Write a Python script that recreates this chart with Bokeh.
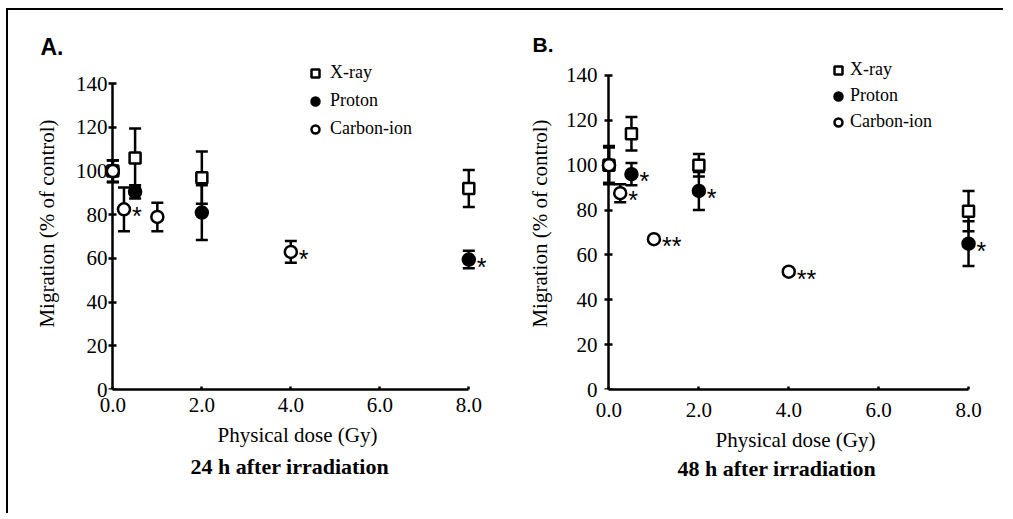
from bokeh.plotting import figure
from bokeh.layouts import row
from bokeh.models import FixedTicker, Legend, LegendItem, Title, ColumnDataSource, LinearAxis
from bokeh.embed import file_html
from bokeh.resources import INLINE
from bokeh.core.properties import value

# ---- data -------------------------------------------------------------
XRAY_DOSE = [0, 0.5, 2, 8]
PROTON_DOSE = [0, 0.5, 2, 8]
CARBON_DOSE = [0, 0.25, 1, 4]

A_XRAY = [100, 106, 97, 92]
A_XRAY_ERR = [5, 13.5, 12, 8.5]
A_PROTON = [100, 90.5, 81, 59.5]
A_PROTON_ERR = [5, 3, 12.5, 4]
A_CARBON = [100, 82.5, 79, 63]
A_CARBON_ERR = [5, 10, 6.5, 5]
A_XRAY_SIG = ["", "", "", ""]
A_PROTON_SIG = ["", "", "", "*"]
A_CARBON_SIG = ["", "*", "", "*"]

B_XRAY = [100, 114, 100, 79.5]
B_XRAY_ERR = [8, 7.5, 5, 9]
B_PROTON = [100, 96, 88.5, 65]
B_PROTON_ERR = [8.5, 5, 8.5, 10]
B_CARBON = [100, 87.5, 67, 52.5]
B_CARBON_ERR = [8, 4, 1, 1]
B_XRAY_SIG = ["", "", "", ""]
B_PROTON_SIG = ["", "*", "*", "*"]
B_CARBON_SIG = ["", "*", "**", "**"]

SERIES = ["X-ray", "Proton", "Carbon-ion"]
X_TICKS = [0, 2, 4, 6, 8]
X_TICK_LABELS = ["0.0", "2.0", "4.0", "6.0", "8.0"]
Y_TICKS = [0, 20, 40, 60, 80, 100, 120, 140]
Y_TICK_LABELS = ["0", "20", "40", "60", "80", "100", "120", "140"]
X_LABEL = "Physical dose (Gy)"
Y_LABEL = "Migration (% of control)"

SERIF = "Liberation Serif"
SANS = "Liberation Sans"

STYLE = {
    "X-ray": dict(marker="square", fill_color="white", size=11),
    "Proton": dict(marker="circle", fill_color="black", size=12),
    "Carbon-ion": dict(marker="circle", fill_color="white", size=12),
}

FIG_H = 505


def make_panel(letter, letter_offset, letter_size, letter_standoff, subtitle, sub_offset,
               sub_standoff, series, width, mb_left, mb_right, mb_top, y_end, legend_loc,
               legend_spacing, legend_standoff, xlabel_standoff, ticklabel_standoff,
               ylab_standoff, ylabel_standoff):
    p = figure(width=width, height=FIG_H, x_range=(-0.3, 8.6), y_range=(0, y_end),
               output_backend="svg", toolbar_location=None,
               min_border_left=mb_left, min_border_right=mb_right,
               min_border_top=mb_top, min_border_bottom=126)
    p.grid.visible = False
    p.outline_line_color = None

    # panel letter
    p.title.text = letter
    p.title.align = "left"
    p.title.offset = letter_offset
    p.title.text_font = SANS
    p.title.text_font_size = letter_size
    p.title.text_font_style = "bold"
    p.title.text_color = "black"
    p.title.standoff = letter_standoff

    # x axis
    xa = p.xaxis[0]
    xa.ticker = FixedTicker(ticks=X_TICKS)
    xa.major_label_overrides = dict(zip(X_TICKS, X_TICK_LABELS))
    xa.bounds = (0, 8)
    xa.axis_line_width = 2.5
    xa.axis_line_color = "black"
    xa.major_tick_line_width = 2.5
    xa.major_tick_line_color = "black"
    xa.minor_tick_line_color = None
    xa.major_tick_in = 3
    xa.major_tick_out = 0
    xa.major_label_standoff = ticklabel_standoff
    xa.major_label_text_font = SERIF
    xa.major_label_text_font_size = "21px"
    xa.major_label_text_color = "black"
    xa.axis_label = X_LABEL
    xa.axis_label_standoff = xlabel_standoff
    xa.axis_label_text_font = SERIF
    xa.axis_label_text_font_size = "21px"
    xa.axis_label_text_font_style = "normal"
    xa.axis_label_text_color = "black"

    # y axis: labels only, at frame edge
    ya = p.yaxis[0]
    ya.ticker = FixedTicker(ticks=Y_TICKS)
    ya.major_label_overrides = dict(zip(Y_TICKS, Y_TICK_LABELS))
    ya.axis_line_color = None
    ya.major_tick_line_color = None
    ya.minor_tick_line_color = None
    ya.major_tick_in = 0
    ya.major_tick_out = 0
    ya.major_label_standoff = ylab_standoff
    ya.major_label_text_font = SERIF
    ya.major_label_text_font_size = "21px"
    ya.major_label_text_color = "black"
    ya.axis_label = Y_LABEL
    ya.axis_label_standoff = ylabel_standoff
    ya.axis_label_text_font = SERIF
    ya.axis_label_text_font_size = "21px"
    ya.axis_label_text_font_style = "normal"
    ya.axis_label_text_color = "black"

    # y axis line and ticks at dose = 0
    yline = LinearAxis(ticker=FixedTicker(ticks=Y_TICKS), fixed_location=0,
                       bounds=(0, 140), axis_line_width=2.5, axis_line_color="black",
                       major_tick_line_width=2.5, major_tick_line_color="black",
                       minor_tick_line_color=None, major_tick_in=4, major_tick_out=4,
                       major_label_text_color=None, major_label_text_font_size="1px")
    p.add_layout(yline, "left")

    renderers = {}
    for name, (dose, vals, errs, sig) in series.items():
        src = ColumnDataSource(dict(
            x=dose, y=vals,
            lo=[v - e for v, e in zip(vals, errs)],
            hi=[v + e for v, e in zip(vals, errs)],
            sig=sig,
        ))
        p.segment(x0="x", y0="lo", x1="x", y1="hi", source=src,
                  line_color="black", line_width=2.5)
        p.scatter(x="x", y="lo", source=src, marker="dash", size=12,
                  line_color="black", line_width=2.5)
        p.scatter(x="x", y="hi", source=src, marker="dash", size=12,
                  line_color="black", line_width=2.5)
        st = STYLE[name]
        r = p.scatter(x="x", y="y", source=src, marker=st["marker"],
                      size=st["size"], fill_color=st["fill_color"],
                      line_color="black", line_width=2.5, level="overlay")
        renderers[name] = r
        p.text(x="x", y="y", text="sig", source=src, x_offset=8, y_offset=7,
               text_align="left", text_baseline="middle",
               text_font=value(SANS), text_font_size="25px",
               text_color="black", level="overlay")

    legend = Legend(items=[LegendItem(label=n, renderers=[renderers[n]]) for n in SERIES],
                    location=legend_loc)
    legend.border_line_color = None
    legend.background_fill_alpha = 0
    legend.label_text_font = SERIF
    legend.label_text_font_size = "18px"
    legend.label_text_color = "black"
    legend.glyph_width = 20
    legend.glyph_height = 20
    legend.label_height = 20
    legend.spacing = legend_spacing
    legend.padding = 0
    legend.margin = 0
    legend.label_standoff = legend_standoff
    p.add_layout(legend)

    sub = Title(text=subtitle, align="left", offset=sub_offset, standoff=sub_standoff,
                text_font=SERIF, text_font_size="22px", text_font_style="bold",
                text_color="black")
    p.add_layout(sub, "below")
    return p


pA = make_panel("A.", -59, "23px", -5, "24 h after irradiation", 91, 5,
                {"X-ray": (XRAY_DOSE, A_XRAY, A_XRAY_ERR, A_XRAY_SIG),
                 "Proton": (PROTON_DOSE, A_PROTON, A_PROTON_ERR, A_PROTON_SIG),
                 "Carbon-ion": (CARBON_DOSE, A_CARBON, A_CARBON_ERR, A_CARBON_SIG)},
                497, 91, 10, 47, 152, (206, 250), 7, 5, 8, 8, -8, 14)
pB = make_panel("B.", -63, "21px", 4, "48 h after irradiation", 82, -1,
                {"X-ray": (XRAY_DOSE, B_XRAY, B_XRAY_ERR, B_XRAY_SIG),
                 "Proton": (PROTON_DOSE, B_PROTON, B_PROTON_ERR, B_PROTON_SIG),
                 "Carbon-ion": (CARBON_DOSE, B_CARBON, B_CARBON_ERR, B_CARBON_SIG)},
                500, 90, 10, 44, 148, (233, 257), 5, 2, 8, 13, -2, 11)

layout = row(pA, pB, styles={"margin-left": "8px", "margin-top": "10px",
                             "box-shadow": "-2px -2px 0 0 black"})

open("out.html", "w").write(file_html(layout, INLINE))
